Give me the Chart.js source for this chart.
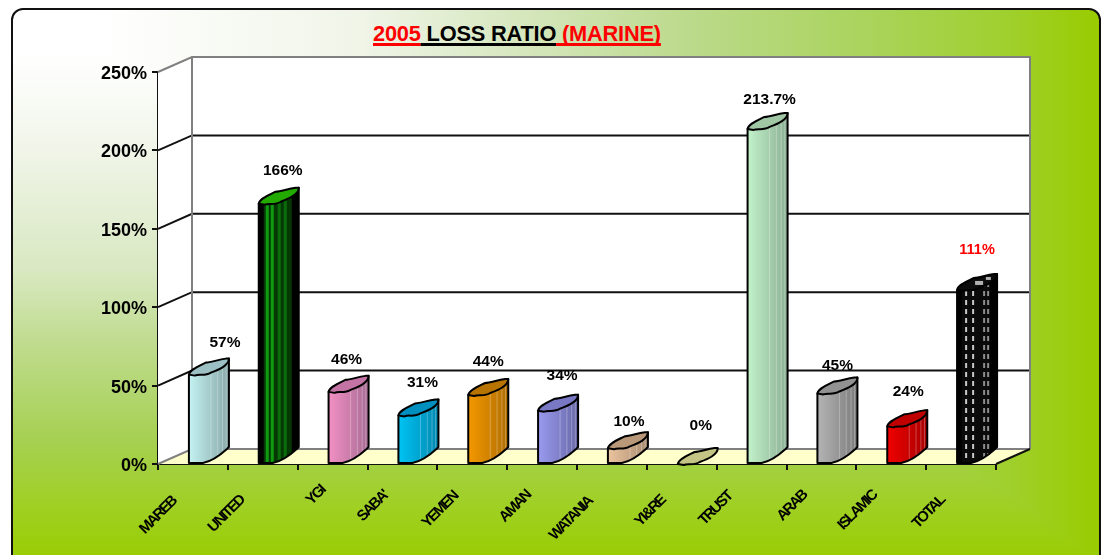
<!DOCTYPE html>
<html>
<head>
<meta charset="utf-8">
<script src="https://cdn.jsdelivr.net/npm/chart.js@4"></script>
<style>
  html, body { margin: 0; padding: 0; background: #fff; overflow: hidden; }
  #stage { position: relative; width: 1120px; height: 555px; overflow: hidden; }
  /* corner style fill: the darker of a left-right and a top-bottom ramp */
  #panel {
    position: absolute; left: 11px; top: 8px; width: 1086px; height: 570px;
    border: 2px solid #111; border-radius: 12px;
    background-image:
      linear-gradient(to right, #fff 0%, #fff 8%, #f0f5e8 32%, #d0e4b4 50%, #bcda8c 62%, #aad45e 78%, #a0d030 91%, #99cc00 100%),
      linear-gradient(to bottom, #fff 0%, #fff 8%, #f0f5e8 25%, #d8e8c0 46%, #c0dc90 58%, #a5d050 76%, #9fd020 88%, #99cc00 97%);
    background-blend-mode: darken;
  }
  #title {
    position: absolute; left: 373px; top: 21px; white-space: pre;
    font: bold 21.8px "Liberation Sans", Arial, sans-serif; letter-spacing: -0.2px;
    color: #f00; text-decoration: underline; text-decoration-thickness: 3px; text-underline-offset: 2px;
    text-decoration-skip-ink: none;
  }
  #title span { color: #000; text-decoration: underline; text-decoration-thickness: 3px; text-underline-offset: 2px; text-decoration-skip-ink: none; }
  canvas { position: absolute; left: 0; top: 0; }
</style>
</head>
<body>
<div id="stage">
  <div id="panel"></div>
  <div id="title">2005<span> LOSS RATIO</span> (MARINE)</div>
  <canvas id="lossChart" width="1120" height="555"></canvas>
</div>
<script>
const categories = ["MAREB", "UNITED", "YGI", "SABA'", "YEMEN", "AMAN", "WATANIA", "YI&RE", "TRUST", "ARAB", "ISLAMIC", "TOTAL"];
const lossRatio = [57, 166, 46, 31, 44, 34, 10, 0, 213.7, 45, 24, 111];
const yTicks = [0, 50, 100, 150, 200, 250];

// bar colours
const barLight = ["#c4f2f2", "#0a7a0a", "#f290c4", "#00c4f4", "#f49800", "#9a9af0", "#ecc4a0", "#d4d49c", "#c2f2ca", "#b4b4b4", "#f00000", "#111111"];
const barDark = ["#88a8a8", "#0a7a0a", "#a86c94", "#0088b0", "#b06e00", "#6868a8", "#a88c70", "#a8a878", "#8cb094", "#7c7c7c", "#a80000", "#111111"];
const topColors = ["#9cc0c4", "#22aa00", "#c474a4", "#0090c0", "#b87400", "#7878c4", "#b89878", "#c4c484", "#a0c8a4", "#929292", "#c00000", "#0c0c0c"];
const labelDx = [16, 4, -2, 4, 0, 4, 1, 3, 2, 0, 1, 0];
const labelDy = [4, 3, 4, 3, 3, 1, 9, -2, 7, 8, 1, -4];
const catDx = [-15, -17, -6, -13, -13, -10, -18, -15, -18, -13, -13, -15];
const catDy = [3, 2, -8, -3, -2, -3, 3, 2, -2, -3, -3, 2];

// 3d box of the old style chart
const depthX = 34, depthY = 15, barShift = 16, capRise = 16;

function stripePattern(ctx, dashed) {
  const c = document.createElement("canvas");
  c.width = 28; c.height = 9;
  const p = c.getContext("2d");
  p.fillStyle = dashed ? "#0a0a0a" : "#053805";
  p.fillRect(0, 0, 28, 9);
  (dashed ? [3, 10, 21, 25] : [2, 7, 14, 20]).forEach((x, k) => {
    if (dashed) {
      p.fillStyle = k < 2 ? "#c8c8c8" : "#8c8c8c";
      p.fillRect(x, 1, 2, 5);
    } else {
      p.fillStyle = k < 2 ? "#0f9a0f" : "#0a6c0a";
      p.fillRect(x, 0, 3, 9);
    }
  });
  return ctx.createPattern(c, "repeat");
}

const box3d = {
  id: "box3d",
  beforeDatasetsDraw(chart) {
    const { ctx, chartArea: a, scales: { y } } = chart;
    const bx = a.left + depthX, by = a.bottom - depthY, tx = a.right + depthX, ty = a.top - depthY;
    ctx.save();
    // walls
    ctx.fillStyle = "#fff";
    ctx.fillRect(bx, ty, tx - bx, by - ty);
    ctx.beginPath();
    ctx.moveTo(a.left, a.top); ctx.lineTo(bx, ty); ctx.lineTo(bx, by); ctx.lineTo(a.left, a.bottom);
    ctx.closePath(); ctx.fill();
    // floor
    ctx.fillStyle = "#ffffcc";
    ctx.beginPath();
    ctx.moveTo(a.left, a.bottom); ctx.lineTo(bx, by); ctx.lineTo(tx, by); ctx.lineTo(a.right, a.bottom);
    ctx.closePath(); ctx.fill();
    ctx.lineWidth = 2;
    // grid
    yTicks.forEach((t) => {
      if (t === 0 || t === 250) return;
      const py = y.getPixelForValue(t);
      ctx.strokeStyle = "#111";
      ctx.beginPath();
      ctx.moveTo(a.left, py); ctx.lineTo(bx, py - depthY); ctx.lineTo(tx, py - depthY);
      ctx.stroke();
    });
    ctx.strokeStyle = "#808080";
    ctx.beginPath();
    ctx.moveTo(a.left, a.top); ctx.lineTo(bx, ty); ctx.lineTo(tx, ty); ctx.lineTo(tx, by);
    ctx.moveTo(tx, by); ctx.lineTo(bx, by); ctx.lineTo(a.left, a.bottom);
    ctx.moveTo(bx, ty); ctx.lineTo(bx, by);
    ctx.stroke();
    ctx.strokeStyle = "#111";
    ctx.beginPath();
    ctx.moveTo(tx, by); ctx.lineTo(a.right, a.bottom);
    ctx.stroke();
    ctx.restore();
  },
  beforeDatasetDraw(chart, args) {
    const ctx = chart.ctx;
    args.meta.data.forEach((bar, i) => {
      const L = bar.x - bar.width / 2 + barShift, R = bar.x + bar.width / 2 + barShift;
      const yt = bar.y, yb = bar.base, w = R - L;
      ctx.save();
      ctx.lineWidth = 2;
      ctx.lineJoin = "round";
      ctx.strokeStyle = "#000";
      // body
      const body = new Path2D();
      body.moveTo(L, yt);
      body.lineTo(L, yb);
      body.lineTo(L + w * 0.35, yb);
      body.quadraticCurveTo(L + w * 0.62, yb - 2, L + w * 0.95, yb - capRise + 2);
      body.lineTo(R, yb - capRise);
      body.lineTo(R, yt - capRise);
      body.closePath();
      if (yb - yt > 0.5) {
        if (i === 1 || i === 11) {
          ctx.fillStyle = "#000";
          ctx.fill(body);
          ctx.save();
          ctx.clip(body);
          ctx.translate(L + 5, yt);
          ctx.fillStyle = stripePattern(ctx, i === 11);
          ctx.fillRect(0, -capRise + 6, w - 12, yb - yt + capRise);
          ctx.restore();
        } else {
          const g = ctx.createLinearGradient(L, 0, R, 0);
          g.addColorStop(0, barLight[i]);
          g.addColorStop(1, barDark[i]);
          ctx.fillStyle = g;
          ctx.fill(body);
          // facets
          ctx.save();
          ctx.clip(body);
          ctx.strokeStyle = "rgba(255,255,255,0.28)";
          ctx.lineWidth = 1;
          [0.55, 0.72, 0.84, 0.93].forEach((f) => {
            ctx.beginPath();
            ctx.moveTo(L + w * f, yt - capRise);
            ctx.lineTo(L + w * f, yb);
            ctx.stroke();
          });
          ctx.restore();
        }
        ctx.stroke(body);
      }
      // cap, slightly wavy like the source
      const cap = new Path2D();
      cap.moveTo(L, yt);
      cap.bezierCurveTo(L + 1, yt - 5, L + w * 0.22, yt - 8, L + w * 0.42, yt - 12);
      cap.bezierCurveTo(L + w * 0.55, yt - 12, L + w * 0.72, yt - 15, R - 3, yt - capRise);
      cap.lineTo(R, yt - capRise);
      cap.bezierCurveTo(R, yt - capRise + 7, L + w * 0.75, yt - 5, L + w * 0.55, yt - 2);
      cap.bezierCurveTo(L + w * 0.4, yt + 2, L + w * 0.25, yt - 1, L + w * 0.15, yt + 1);
      cap.closePath();
      ctx.fillStyle = topColors[i];
      ctx.fill(cap);
      ctx.stroke(cap);
      if (i === 11) {
        ctx.fillStyle = "#b0b0b0";
        ctx.fillRect(L + w * 0.45, yt - 9, 8, 4);
        ctx.fillRect(L + w * 0.72, yt - 13, 5, 3);
      }
      ctx.restore();
    });
    return false;
  },
  afterDatasetsDraw(chart) {
    const { ctx, scales: { x } } = chart;
    const meta = chart.getDatasetMeta(0);
    ctx.save();
    // value labels
    ctx.textAlign = "center";
    ctx.textBaseline = "middle";
    meta.data.forEach((bar, i) => {
      const isTotal = i === 11;
      ctx.fillStyle = isTotal ? "#f00" : "#000";
      ctx.font = (isTotal ? "bold 14.5px" : "bold 15.5px") + ' "Liberation Sans", Arial, sans-serif';
      ctx.fillText(lossRatio[i] + "%", bar.x + barShift + labelDx[i], bar.y - capRise - 20 + labelDy[i]);
    });
    // category labels, squeezed like the source
    ctx.font = 'bold 15px "Liberation Sans", Arial, sans-serif';
    ctx.letterSpacing = "-1.9px";
    ctx.fillStyle = "#000";
    ctx.textAlign = "right";
    ctx.textBaseline = "top";
    categories.forEach((name, i) => {
      ctx.save();
      ctx.translate(x.getPixelForValue(i) - 9 + catDx[i], 491 + catDy[i]);
      ctx.rotate(-Math.PI / 4);
      ctx.fillText(name, 0, 0);
      ctx.restore();
    });
    ctx.restore();
  },
};

new Chart(document.getElementById("lossChart"), {
  type: "bar",
  data: {
    labels: categories,
    datasets: [{
      label: "Loss ratio",
      data: lossRatio,
      backgroundColor: barLight,
      barPercentage: 0.573,
      categoryPercentage: 1,
    }],
  },
  plugins: [box3d],
  options: {
    responsive: false,
    animation: false,
    layout: { padding: { left: 0, right: 124, top: 72, bottom: 85 } },
    plugins: { legend: { display: false }, title: { display: false }, tooltip: { enabled: false } },
    scales: {
      x: {
        afterFit(scale) { scale.height = 6; },
        grid: { offset: true, drawOnChartArea: false, color: "#111", lineWidth: 2, tickLength: 6 },
        border: { color: "#111", width: 2 },
        ticks: { display: false },
      },
      y: {
        min: 0,
        max: 250,
        afterFit(scale) { scale.width = 158; },
        afterBuildTicks(scale) { scale.ticks = yTicks.map((v) => ({ value: v })); },
        grid: { drawOnChartArea: false, color: "#111", lineWidth: 2, tickLength: 6 },
        border: { color: "#111", width: 2 },
        ticks: {
          padding: 5,
          labelOffset: 2,
          color: "#000",
          font: { family: '"Liberation Sans", Arial, sans-serif', size: 18, weight: "bold" },
          callback: (v) => v + "%",
        },
      },
    },
  },
});
</script>
</body>
</html>
